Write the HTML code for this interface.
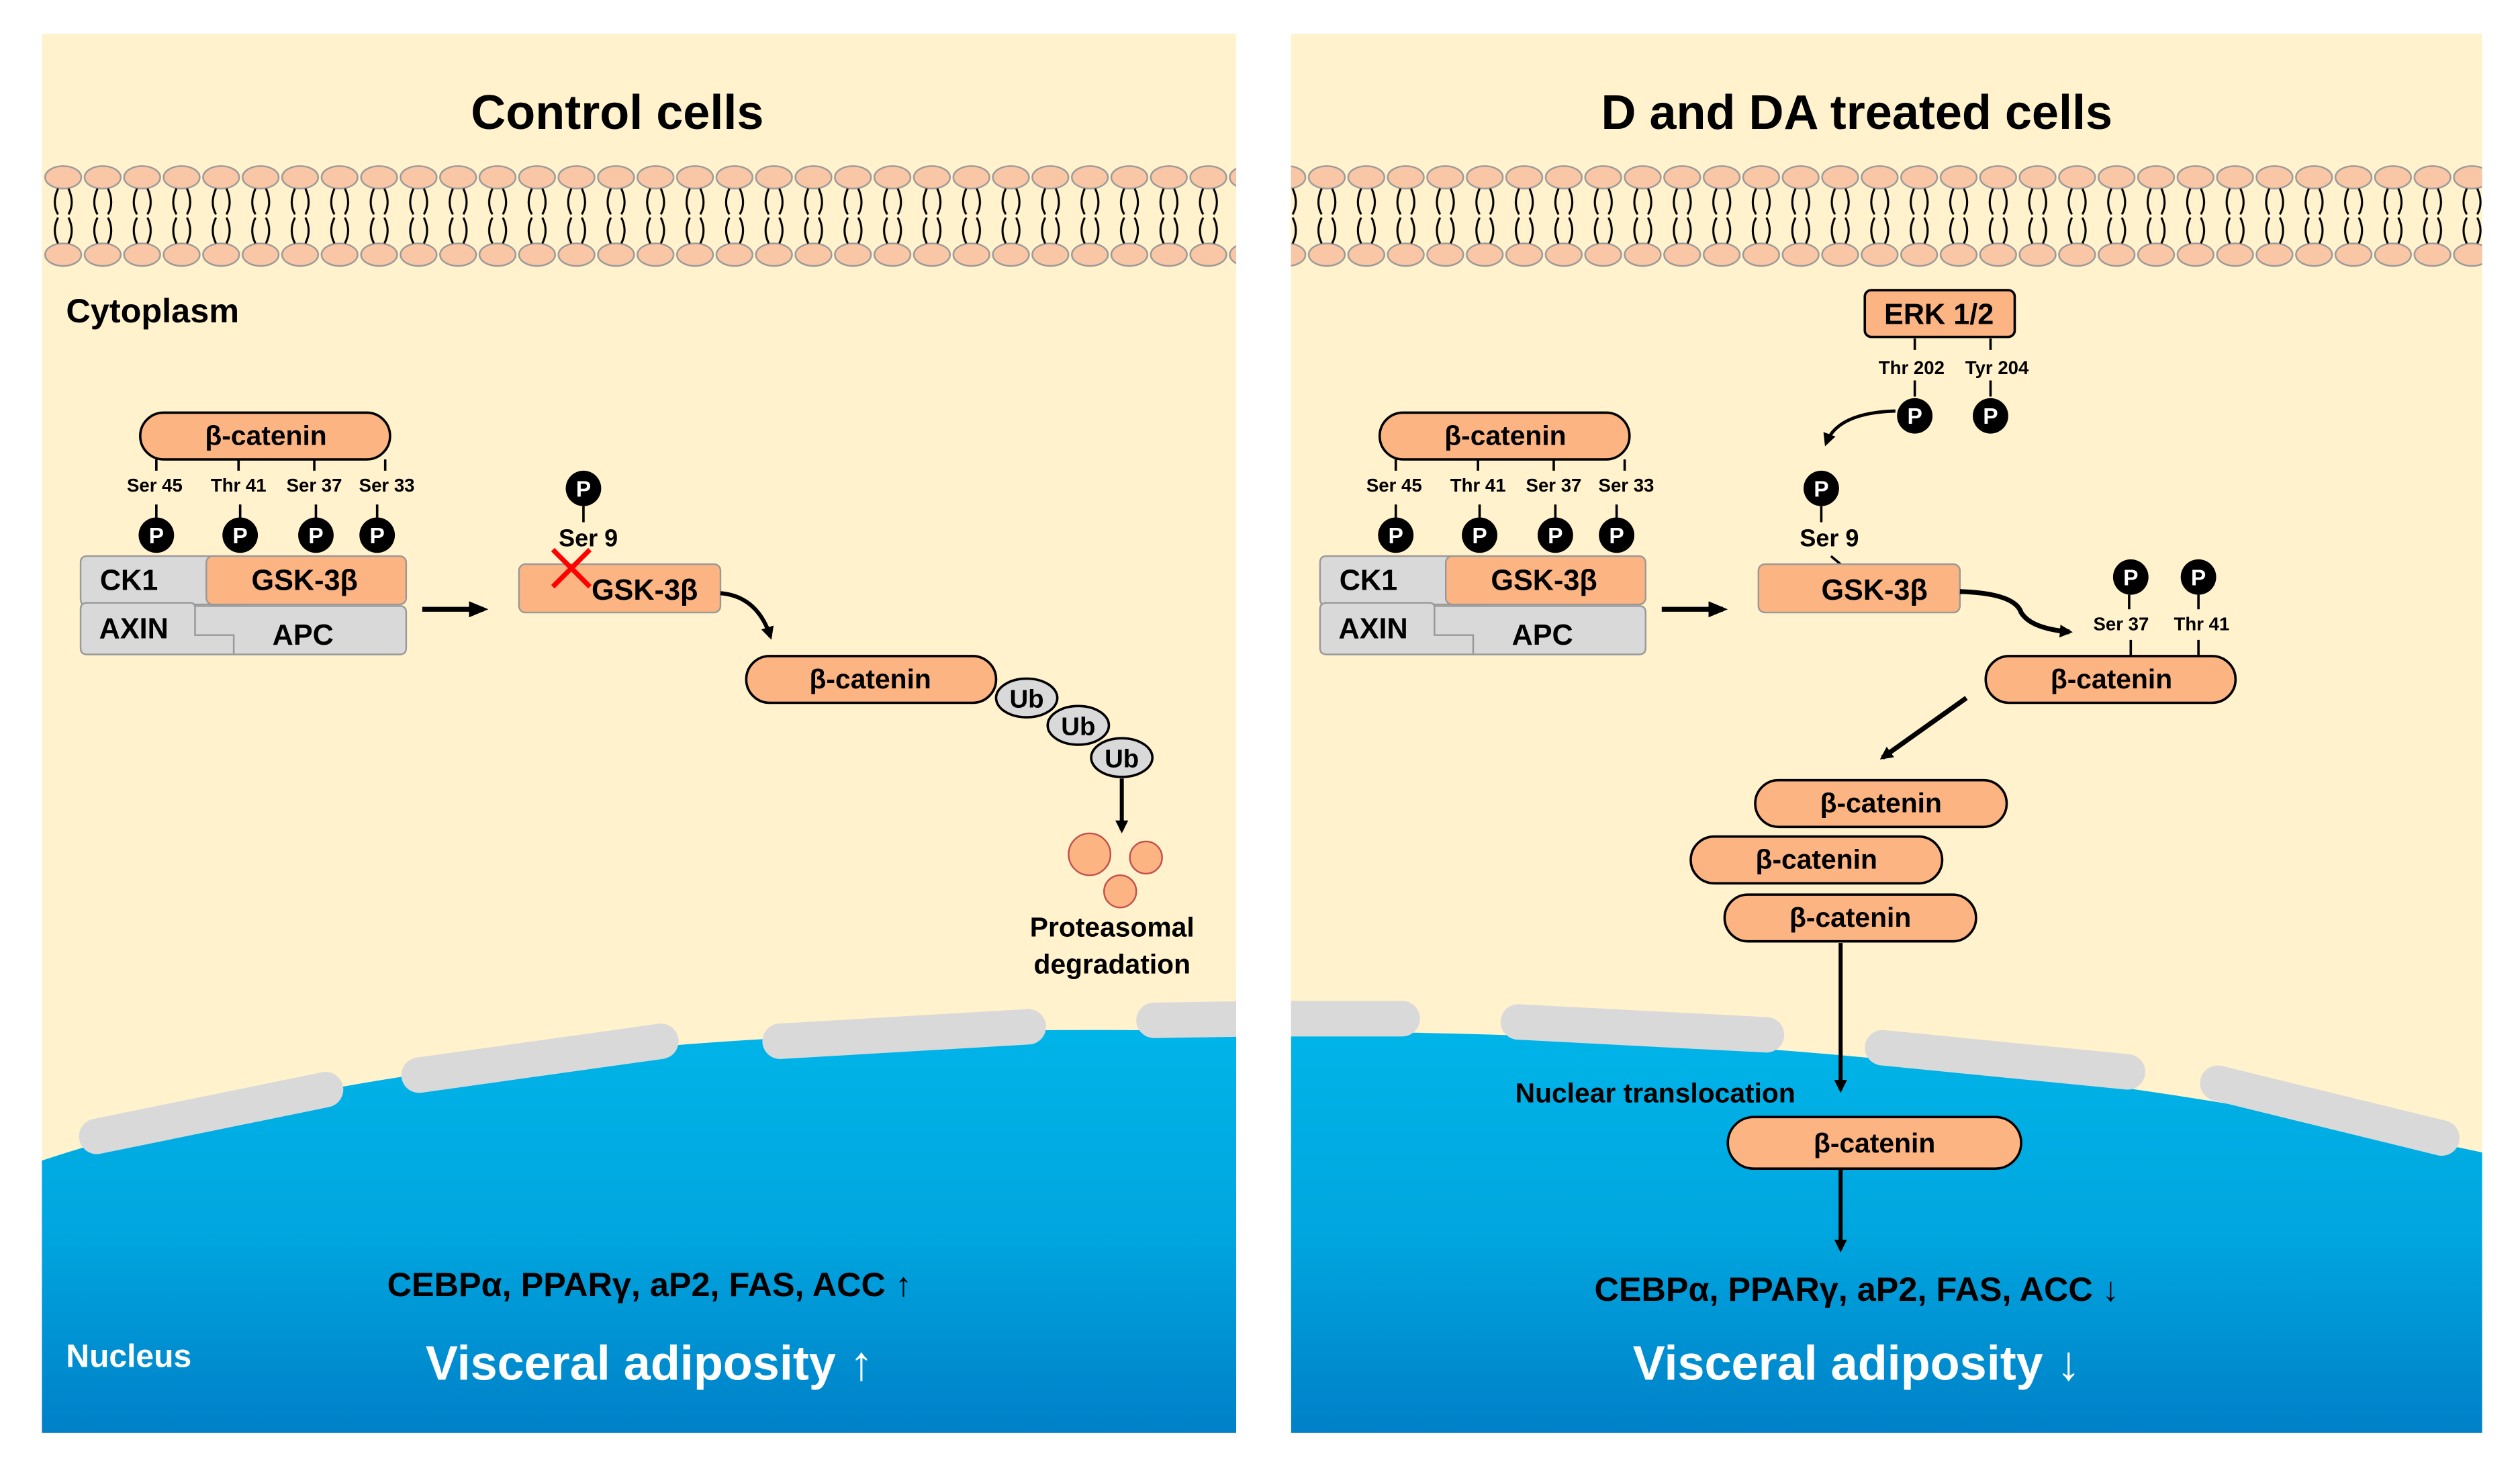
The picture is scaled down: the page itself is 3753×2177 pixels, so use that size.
<!DOCTYPE html>
<html><head><meta charset="utf-8"><style>html,body{margin:0;padding:0;background:#fff}svg{display:block}text{font-family:"Liberation Sans",sans-serif;font-weight:bold}</style></head><body>
<svg width="3753" height="2177" viewBox="0 0 1563.5 907" preserveAspectRatio="none" xmlns="http://www.w3.org/2000/svg">
<defs>
<linearGradient id="bl" x1="0" y1="0" x2="0" y2="1"><stop offset="0" stop-color="#00b4e8"/><stop offset="0.5" stop-color="#00a6df"/><stop offset="1" stop-color="#0080c8"/></linearGradient>
<pattern id="mem" patternUnits="userSpaceOnUse" x="27" y="98" width="24.5" height="72">
<ellipse cx="12.2" cy="12" rx="11.2" ry="7" fill="#f9c6a6" stroke="#999" stroke-width="1"/>
<ellipse cx="12.2" cy="60" rx="11.2" ry="7" fill="#f9c6a6" stroke="#999" stroke-width="1"/>
<path d="M9 19 Q5 28 9 35 M15.5 19 Q19.5 28 15.5 35 M9 37 Q5 45 9 53 M15.5 37 Q19.5 45 15.5 53" stroke="#000" stroke-width="1.3" fill="none"/>
</pattern>
<marker id="ah" markerWidth="8" markerHeight="8" refX="6" refY="4" orient="auto" markerUnits="userSpaceOnUse"><path d="M0 0 L8 4 L0 8Z" fill="#000"/></marker>
<marker id="ah2" markerWidth="12" markerHeight="10" refX="9" refY="5" orient="auto" markerUnits="userSpaceOnUse"><path d="M0 0 L12 5 L0 10Z" fill="#000"/></marker>
</defs>
<rect width="1563.5" height="907" fill="#fff"/>
<rect x="26" y="21" width="741" height="868" fill="#fff2cc"/>
<rect x="801" y="21" width="739" height="868" fill="#fff2cc"/>
<path d="M26 720 Q300 630 767 640 L767 889 L26 889Z" fill="url(#bl)"/>
<path d="M801 640 Q1200 640 1540 715 L1540 889 L801 889Z" fill="url(#bl)"/>
<g stroke="#d9d9d9" stroke-linecap="round" stroke-width="22" fill="none">
<path d="M60 705 L202 676"/><path d="M260 667 L410 646"/><path d="M484 646 L638 637"/><path d="M716 633 L780 632"/>
<path d="M790 632 L870 632"/><path d="M942 634 L1096 642"/><path d="M1168 650 L1320 665"/><path d="M1376 672 L1515 706"/>
</g>
<rect x="767" y="600" width="34" height="300" fill="#fff"/>
<rect x="27" y="98" width="740" height="72" fill="url(#mem)"/>
<rect x="801" y="98" width="739" height="72" fill="url(#mem)"/>
<text x="383" y="80" font-size="30" text-anchor="middle">Control cells</text>
<text x="1152" y="80" font-size="30" text-anchor="middle">D and DA treated cells</text>
<text x="41" y="200" font-size="21">Cytoplasm</text>

<g id="cx">
<rect x="87" y="256" width="155" height="29" rx="14.5" fill="#fbb482" stroke="#000" stroke-width="1.5"/>
<text x="165" y="276" font-size="17" text-anchor="middle">β-catenin</text>
<g stroke="#000" stroke-width="1.5"><path d="M97 285v7M148 285v7M195 285v7M239 285v7M97 313v8M149 313v8M196 313v8M234 313v8"/></g>
<g font-size="11.5" text-anchor="middle"><text x="96" y="305">Ser 45</text><text x="148" y="305">Thr 41</text><text x="195" y="305">Ser 37</text><text x="240" y="305">Ser 33</text></g>
<g fill="#000"><circle cx="97" cy="332" r="11"/><circle cx="149" cy="332" r="11"/><circle cx="196" cy="332" r="11"/><circle cx="234" cy="332" r="11"/></g>
<g fill="#fff" font-size="14" text-anchor="middle"><text x="97" y="337">P</text><text x="149" y="337">P</text><text x="196" y="337">P</text><text x="234" y="337">P</text></g>
<path d="M54 345 H150 V375 H52 Q50 375 50 371 V349 Q50 345 54 345Z" fill="#d9d9d9" stroke="#999"/>
<path d="M121 376 H248 Q252 376 252 380 V402 Q252 406 248 406 H145 V394 H121Z" fill="#d9d9d9" stroke="#999"/>
<path d="M54 374 H118 Q121 374 121 377 V394 H145 V406 H54 Q50 406 50 402 V378 Q50 374 54 374Z" fill="#d9d9d9" stroke="#999"/>
<rect x="128" y="345" width="124" height="30" rx="4" fill="#fbb482" stroke="#999"/>
<text x="80" y="366" font-size="18" text-anchor="middle">CK1</text>
<text x="189" y="366" font-size="18" text-anchor="middle">GSK-3β</text>
<text x="83" y="396" font-size="18" text-anchor="middle">AXIN</text>
<text x="188" y="400" font-size="18" text-anchor="middle">APC</text>
<path d="M262 378 H300" stroke="#000" stroke-width="3" marker-end="url(#ah2)"/>
</g>
<use href="#cx" x="769"/>

<rect x="322" y="350" width="125" height="30" rx="4" fill="#fbb482" stroke="#999"/>
<text x="400" y="372" font-size="18" text-anchor="middle">GSK-3β</text>
<circle cx="362" cy="303" r="11" fill="#000"/><text x="362" y="308" fill="#fff" font-size="14" text-anchor="middle">P</text>
<path d="M362 314v10" stroke="#000" stroke-width="1.5"/>
<text x="365" y="339" font-size="15" text-anchor="middle">Ser 9</text>
<path d="M343 341 L366 364 M366 341 L343 364" stroke="#f00" stroke-width="3"/>
<path d="M447 368 Q470 370 478 395" stroke="#000" stroke-width="2.5" fill="none" marker-end="url(#ah)"/>
<rect x="463" y="407" width="155" height="29" rx="14.5" fill="#fbb482" stroke="#000" stroke-width="1.5"/>
<text x="540" y="427" font-size="17" text-anchor="middle">β-catenin</text>
<g fill="#d9d9d9" stroke="#000" stroke-width="1.5"><ellipse cx="637" cy="433" rx="19" ry="12"/><ellipse cx="669" cy="450" rx="19" ry="12"/><ellipse cx="696" cy="470" rx="19" ry="12"/></g>
<g font-size="16" text-anchor="middle"><text x="637" y="439">Ub</text><text x="669" y="456">Ub</text><text x="696" y="476">Ub</text></g>
<path d="M696 483 V515" stroke="#000" stroke-width="2.5" marker-end="url(#ah)"/>
<g fill="#fbb482" stroke="#c0504d" stroke-width="1"><circle cx="676" cy="530" r="13"/><circle cx="711" cy="532" r="10"/><circle cx="695" cy="553" r="10"/></g>
<text x="690" y="581" font-size="17" text-anchor="middle">Proteasomal</text>
<text x="690" y="604" font-size="17" text-anchor="middle">degradation</text>
<text x="403" y="804" font-size="21" text-anchor="middle">CEBPα, PPARγ, aP2, FAS, ACC ↑</text>
<text x="403" y="856" font-size="30" fill="#fff" text-anchor="middle">Visceral adiposity ↑</text>
<text x="41" y="848" font-size="20" fill="#fff">Nucleus</text>

<rect x="1157" y="180" width="93" height="29" rx="4" fill="#fbb482" stroke="#000" stroke-width="1.5"/>
<text x="1203" y="201" font-size="18" text-anchor="middle">ERK 1/2</text>
<path d="M1188 210v7M1235 210v7M1188 236v10M1235 236v10" stroke="#000" stroke-width="1.5"/>
<g font-size="11.5" text-anchor="middle"><text x="1186" y="232">Thr 202</text><text x="1239" y="232">Tyr 204</text></g>
<g fill="#000"><circle cx="1188" cy="258" r="11"/><circle cx="1235" cy="258" r="11"/><circle cx="1130" cy="303" r="11"/><circle cx="1322" cy="358" r="11"/><circle cx="1364" cy="358" r="11"/></g>
<g fill="#fff" font-size="14" text-anchor="middle"><text x="1188" y="263">P</text><text x="1235" y="263">P</text><text x="1130" y="308">P</text><text x="1322" y="363">P</text><text x="1364" y="363">P</text></g>
<path d="M1176 255 Q1140 256 1133 275" stroke="#000" stroke-width="2" fill="none" marker-end="url(#ah)"/>
<path d="M1130 314v10M1136 345l6 5M1321 369v9M1364 369v9M1322 397v10M1364 397v10" stroke="#000" stroke-width="1.5"/>
<text x="1135" y="339" font-size="15" text-anchor="middle">Ser 9</text>
<rect x="1091" y="350" width="125" height="30" rx="4" fill="#fbb482" stroke="#999"/>
<text x="1163" y="372" font-size="18" text-anchor="middle">GSK-3β</text>
<path d="M1216 367 Q1250 368 1254 380 Q1260 390 1284 392" stroke="#000" stroke-width="3" fill="none" marker-end="url(#ah)"/>
<g font-size="11.5" text-anchor="middle"><text x="1316" y="391">Ser 37</text><text x="1366" y="391">Thr 41</text></g>
<g fill="#fbb482" stroke="#000" stroke-width="1.5">
<rect x="1232" y="407" width="155" height="29" rx="14.5"/>
<rect x="1089" y="484" width="156" height="29" rx="14.5"/>
<rect x="1049" y="519" width="156" height="29" rx="14.5"/>
<rect x="1070" y="555" width="156" height="29" rx="14.5"/>
<rect x="1072" y="693" width="182" height="32" rx="16"/>
</g>
<g font-size="17" text-anchor="middle"><text x="1310" y="427">β-catenin</text><text x="1167" y="504">β-catenin</text><text x="1127" y="539">β-catenin</text><text x="1148" y="575">β-catenin</text><text x="1163" y="715">β-catenin</text></g>
<path d="M1220 433 L1168 470" stroke="#000" stroke-width="3" marker-end="url(#ah)"/>
<path d="M1142 585 V676" stroke="#000" stroke-width="2.5" marker-end="url(#ah)"/>
<path d="M1142 725 V775" stroke="#000" stroke-width="2.5" marker-end="url(#ah)"/>
<text x="1027" y="684" font-size="17" text-anchor="middle">Nuclear translocation</text>
<text x="1152" y="807" font-size="21" text-anchor="middle">CEBPα, PPARγ, aP2, FAS, ACC ↓</text>
<text x="1152" y="856" font-size="30" fill="#fff" text-anchor="middle">Visceral adiposity ↓</text>
</svg>
</body></html>
